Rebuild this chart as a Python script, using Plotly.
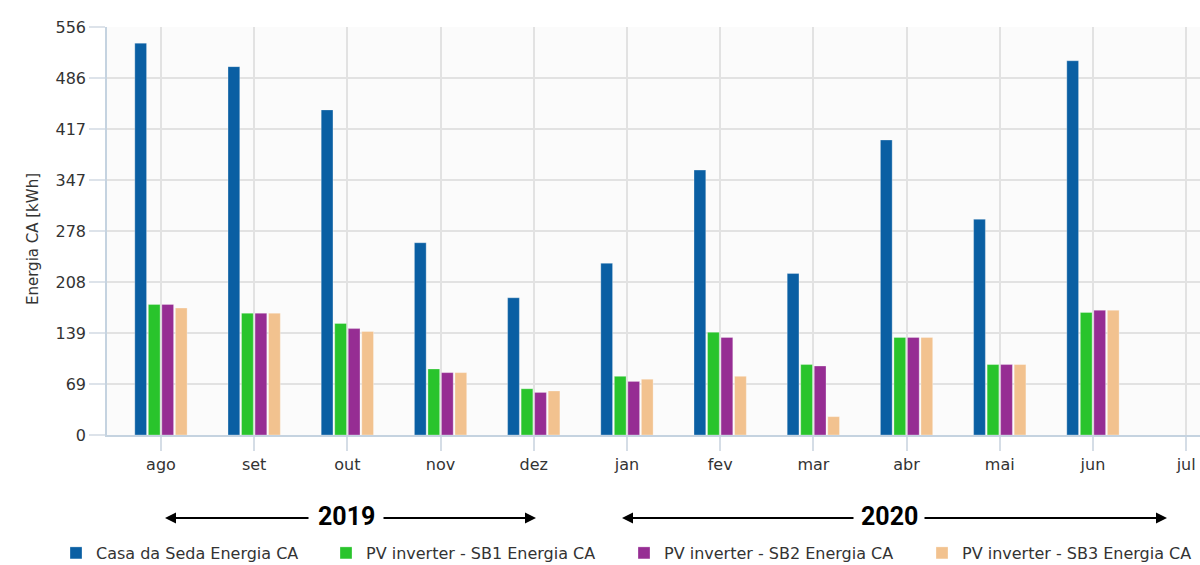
import plotly.graph_objects as go

months = ["ago", "set", "out", "nov", "dez", "jan", "fev", "mar", "abr", "mai", "jun", "jul"]
casa = [534, 502, 443, 262, 187, 234, 361, 220, 402, 294, 510, None]
sb1 = [178, 166, 152, 90, 63, 80, 140, 96, 133, 96, 167, None]
sb2 = [178, 166, 145, 85, 58, 73, 133, 94, 133, 96, 170, None]
sb3 = [173, 166, 141, 85, 60, 76, 80, 25, 133, 96, 170, None]

series_names = ["Casa da Seda Energia CA", "PV inverter - SB1 Energia CA",
                "PV inverter - SB2 Energia CA", "PV inverter - SB3 Energia CA"]
colors = ["#0a5fa3", "#29c42c", "#962d93", "#f2c28f"]

ytick_vals = [0, 69.5, 139, 208.5, 278, 347.5, 417, 486.5, 556]
ytick_text = ["0", "69", "139", "208", "278", "347", "417", "486", "556"]

O = 0  # body margin removed via post_script
W, H = 1200, 565
PLOT_L, PLOT_R, PLOT_T, PLOT_B = 107, 1200, 27, 435   # screen px of plot area
L, T = PLOT_L - O, PLOT_T - O
R = O + W - PLOT_R
B = O + H - PLOT_B
pw, ph = W - L - R, H - T - B


def px(xs):  # screen x -> paper
    return (xs - O - L) / pw


def py(ys):  # screen y -> paper
    return (H - B - (ys - O)) / ph


fig = go.Figure()
legend_ids = ["legend", "legend2", "legend3", "legend4"]
for name, vals, col, lg in zip(series_names, [casa, sb1, sb2, sb3], colors, legend_ids):
    fig.add_trace(go.Bar(x=months, y=vals, name=name, legend=lg,
                         marker=dict(color=col, line=dict(color="rgba(255,255,255,0.6)", width=0.5))))

font_main = "DejaVu Sans"

legend_square_x = [70, 340, 638, 936]
legend_cfg = {}
for lg, sx in zip(legend_ids, legend_square_x):
    legend_cfg[lg] = dict(orientation="h", x=px(sx - 14), y=py(553), xanchor="left", yanchor="middle",
                          font=dict(family=font_main, size=16, color="#333333"),
                          bgcolor="rgba(0,0,0,0)")

cat_w = 93.2
x0 = -0.579
x1 = x0 + (PLOT_R - PLOT_L) / cat_w

fig.update_layout(
    width=W, height=H,
    margin=dict(l=L, r=R, t=T, b=B, autoexpand=False),
    paper_bgcolor="white",
    plot_bgcolor="#fbfbfb",
    barmode="group",
    bargap=0.42,
    bargroupgap=0.13,
    font=dict(family=font_main, size=16, color="#333333"),
    showlegend=True,
    xaxis=dict(
        type="category", range=[x0, x1],
        showgrid=True, gridcolor="#e2e2e2", gridwidth=1.5,
        showline=True, linecolor="#c5d3e0", linewidth=1.5,
        ticks="outside", ticklen=14, tickcolor="#d5dde6", tickwidth=1.5,
        tickfont=dict(family=font_main, size=16, color="#333333"),
        zeroline=False, fixedrange=True,
    ),
    yaxis=dict(
        range=[0, 556], tickvals=ytick_vals, ticktext=ytick_text,
        showgrid=True, gridcolor="#e2e2e2", gridwidth=1.5,
        showline=True, linecolor="#c5d3e0", linewidth=1.5,
        ticks="outside", ticklen=16, tickcolor="#dde3ea", tickwidth=1.5,
        tickfont=dict(family=font_main, size=16, color="#333333"),
        zeroline=False, fixedrange=True,
    ),
    **legend_cfg,
)

year_font = dict(family="Roboto", size=25, color="black")
ann = [dict(text="Energia CA [kWh]", x=px(33), y=py(239), xref="paper", yref="paper",
            textangle=-90, showarrow=False, xanchor="center", yanchor="middle",
            font=dict(family=font_main, size=15, color="#333333"))]
for label, cx in [("2019", 346), ("2020", 889)]:
    ann.append(dict(text="<b>%s</b>" % label, x=px(cx), y=py(516), xref="paper", yref="paper",
                    showarrow=False, font=year_font, xanchor="center", yanchor="middle"))
arrows = [(165, 145), (536, -154), (622, 233), (1167, -244)]
for hx, dx in arrows:
    ann.append(dict(text="", x=px(hx), y=py(518), xref="paper", yref="paper",
                    axref="pixel", ayref="pixel", ax=dx, ay=0,
                    showarrow=True, arrowhead=2, arrowsize=1.1, arrowwidth=2, arrowcolor="black"))
fig.update_layout(annotations=ann)

fig.write_html("out.html",
               config={"displayModeBar": False},
               post_script="document.body.style.margin='0';document.body.style.overflow='hidden';")
